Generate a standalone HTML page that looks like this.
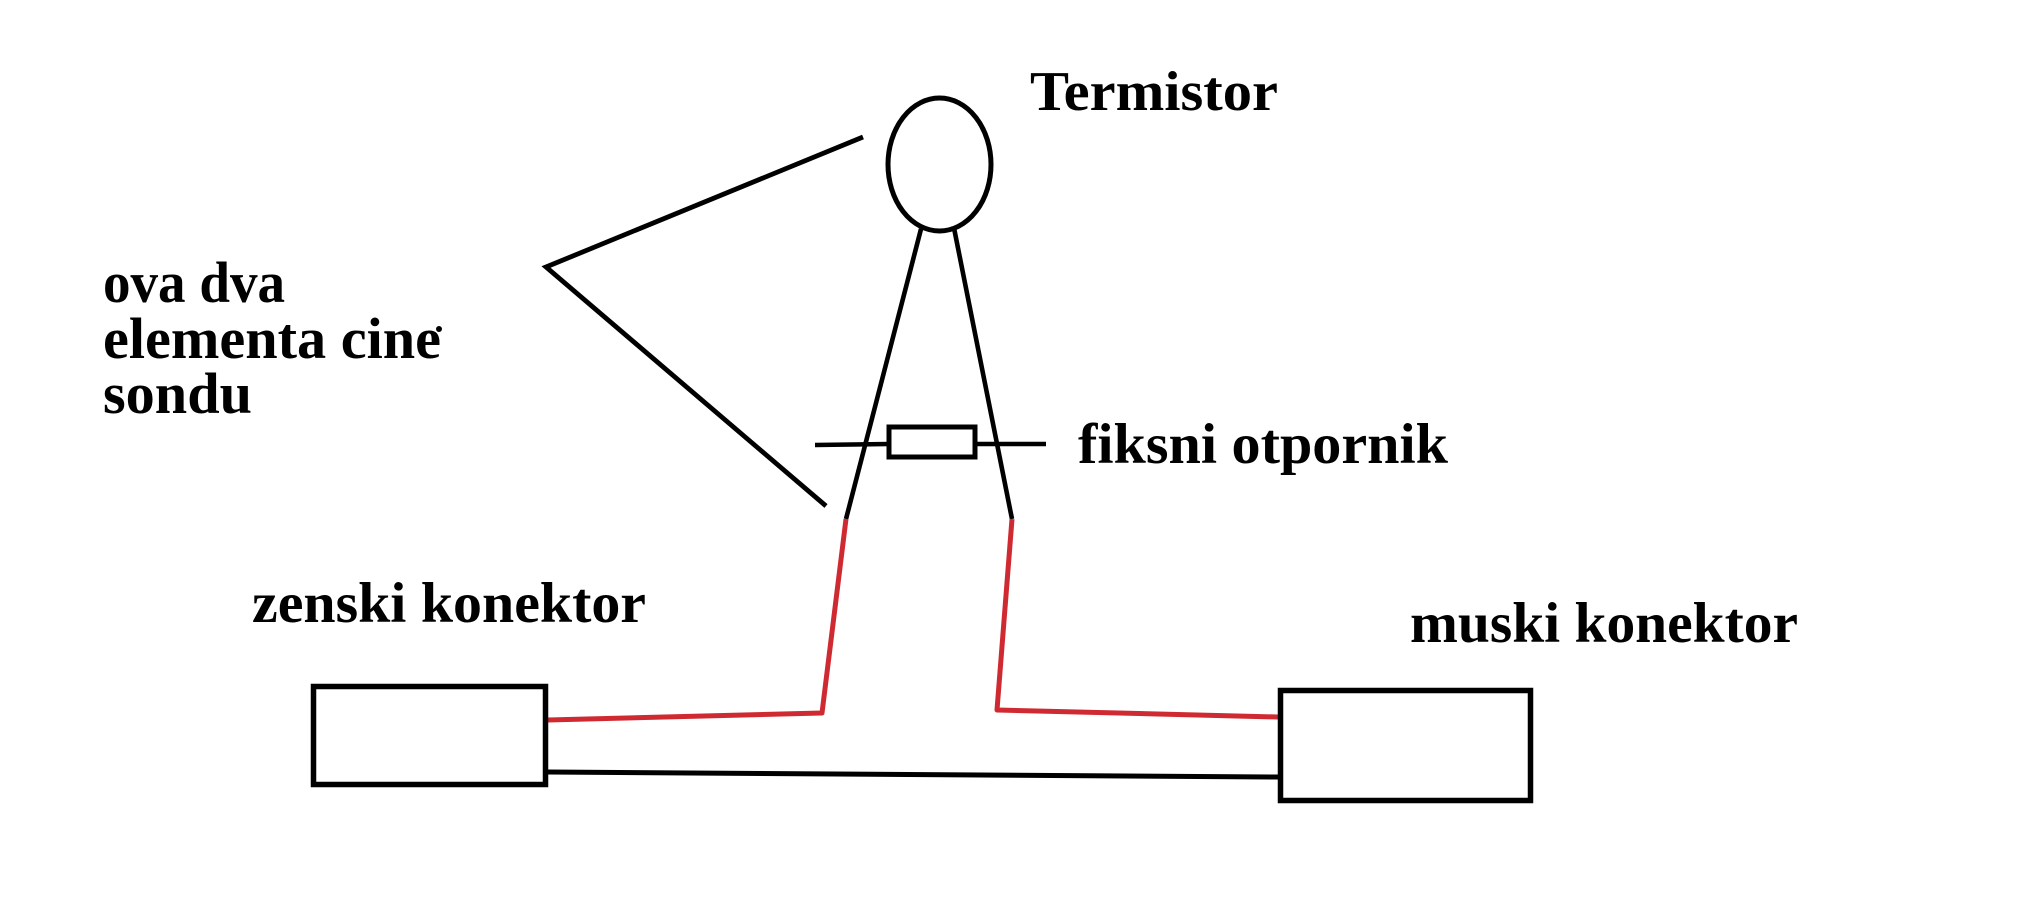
<!DOCTYPE html>
<html>
<head>
<meta charset="utf-8">
<style>
  html, body { margin: 0; padding: 0; background: #ffffff; }
  body { width: 2024px; height: 904px; overflow: hidden; }
  svg { display: block; }
  text { font-family: "Liberation Serif", "DejaVu Serif", serif; font-weight: bold; fill: #000; }
</style>
</head>
<body>
<svg width="2024" height="904" viewBox="0 0 2024 904" xmlns="http://www.w3.org/2000/svg">
  <rect x="0" y="0" width="2024" height="904" fill="#ffffff"/>

  <!-- Thermistor ellipse -->
  <ellipse cx="939.5" cy="164.5" rx="51.5" ry="66.5" fill="none" stroke="#000" stroke-width="5"/>

  <!-- Bracket lines -->
  <polyline points="863,137 546,267 826,506" fill="none" stroke="#000" stroke-width="4.8" stroke-linejoin="miter"/>

  <!-- Thermistor leads (black) -->
  <line x1="921" y1="229" x2="846" y2="519" stroke="#000" stroke-width="4.6"/>
  <line x1="954" y1="228" x2="1012" y2="519" stroke="#000" stroke-width="4.6"/>

  <!-- Fixed resistor -->
  <line x1="815" y1="445" x2="889" y2="444" stroke="#000" stroke-width="4.6"/>
  <line x1="975" y1="444" x2="1046" y2="444" stroke="#000" stroke-width="4.6"/>
  <rect x="889" y="427" width="86" height="30" fill="#fff" stroke="#000" stroke-width="5"/>

  <!-- Red wires -->
  <polyline points="846,519 822,713 548,720" fill="none" stroke="#cf2a31" stroke-width="5" stroke-linejoin="round"/>
  <polyline points="1012,519 997,710 1278,717" fill="none" stroke="#cf2a31" stroke-width="5" stroke-linejoin="round"/>

  <!-- Black bottom wire -->
  <line x1="548" y1="772" x2="1278" y2="777" stroke="#000" stroke-width="5"/>

  <!-- Connectors -->
  <rect x="313.5" y="686.5" width="232" height="98" fill="none" stroke="#000" stroke-width="5.5"/>
  <rect x="1280.5" y="690.5" width="250" height="110" fill="none" stroke="#000" stroke-width="5.5"/>

  <!-- Labels -->
  <text x="1030" y="110" font-size="56" textLength="248" lengthAdjust="spacingAndGlyphs">Termistor</text>
  <text x="103" y="302" font-size="58" textLength="182" lengthAdjust="spacingAndGlyphs">ova dva</text>
  <text x="103" y="358" font-size="58" textLength="338" lengthAdjust="spacingAndGlyphs">elementa cine</text>
  <circle cx="439" cy="329" r="3" fill="#000"/>
  <text x="103" y="413" font-size="58" textLength="149" lengthAdjust="spacingAndGlyphs">sondu</text>
  <text x="1078" y="463" font-size="57" textLength="370" lengthAdjust="spacingAndGlyphs">fiksni otpornik</text>
  <text x="252" y="622" font-size="57" textLength="394" lengthAdjust="spacingAndGlyphs">zenski konektor</text>
  <text x="1410" y="642" font-size="57" textLength="388" lengthAdjust="spacingAndGlyphs">muski konektor</text>
</svg>
</body>
</html>
